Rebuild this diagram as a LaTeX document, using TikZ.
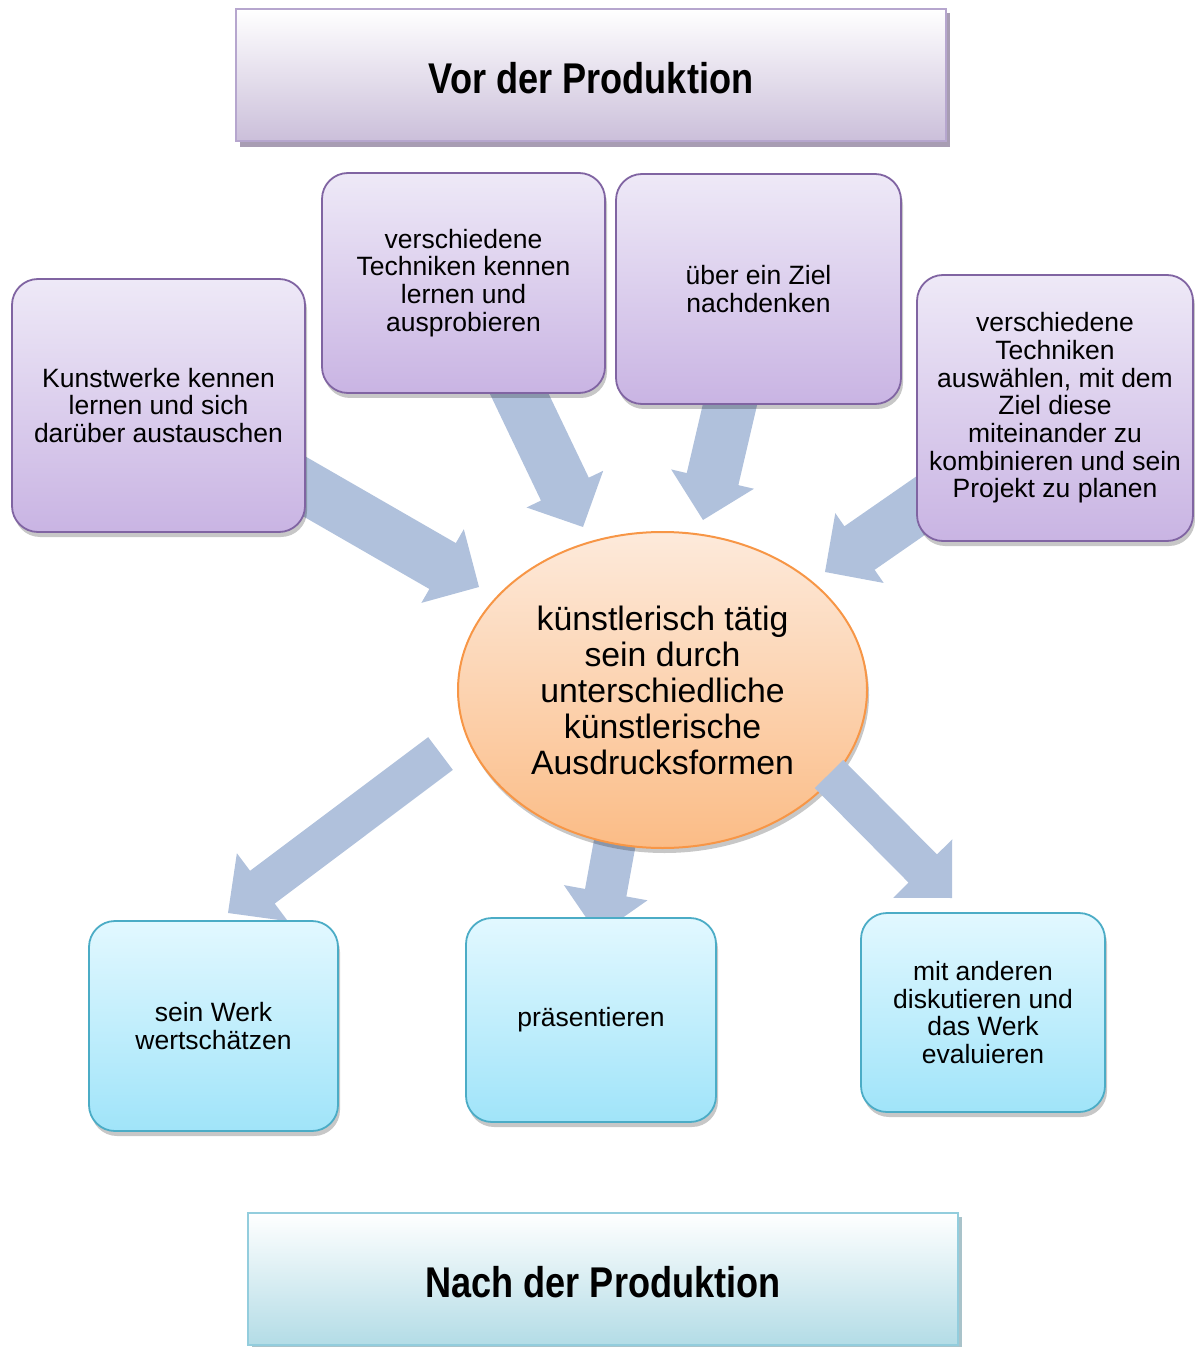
\documentclass[tikz,border=0pt]{standalone}
\usepackage{fontspec}
\setmainfont{Liberation Sans}
\usepackage{graphicx}
\usetikzlibrary{calc,shadows,shapes.geometric}
\definecolor{arrowblue}{HTML}{B0C1DC}
\definecolor{pborder}{HTML}{8064A2}
\definecolor{ptop}{HTML}{EEE9F7}
\definecolor{pbot}{HTML}{C9B4E3}
\definecolor{cborder}{HTML}{4BACC6}
\definecolor{ctop}{HTML}{E2F8FF}
\definecolor{cbot}{HTML}{A0E4F9}
\definecolor{oborder}{HTML}{F79646}
\definecolor{otop}{HTML}{FDEADB}
\definecolor{obot}{HTML}{FBBC86}
\definecolor{tborder}{HTML}{B6A6CE}
\definecolor{tbot}{HTML}{CBBFDA}
\definecolor{tshadow}{HTML}{A89DB3}
\definecolor{nborder}{HTML}{93CDDD}
\definecolor{nbot}{HTML}{B3DCE6}
\definecolor{nshadow}{HTML}{A9C3CA}
\newcommand\blockarrow[5]{%
  \coordinate (#1-h) at ($(#2)!#5!(#1)$);
  \fill[arrowblue] ($(#1)!#3!90:(#2)$) -- ($(#1-h)!#3!90:(#2)$) -- ($(#1-h)!#4!90:(#2)$) -- (#2)
    -- ($(#1-h)!#4!-90:(#2)$) -- ($(#1-h)!#3!-90:(#2)$) -- ($(#1)!#3!-90:(#2)$) -- cycle;}
\tikzset{
  softshadow/.style={drop shadow={shadow xshift=1pt, shadow yshift=-2.5pt, opacity=0.22, fill=black}},
  purplebox/.style={rounded corners=13pt, draw=pborder, line width=0.9pt, top color=ptop, bottom color=pbot,
    align=center, inner sep=0pt, font=\fontsize{13.25}{13.85}\selectfont, softshadow},
  cyanbox/.style={rounded corners=13pt, draw=cborder, line width=0.9pt, top color=ctop, bottom color=cbot,
    align=center, inner sep=0pt, font=\fontsize{13.25}{13.85}\selectfont, softshadow},
  titlebox/.style={draw=tborder, line width=1pt, top color=white, bottom color=tbot, inner sep=0pt,
    minimum width=355pt, minimum height=66pt},
  ntitlebox/.style={draw=nborder, line width=1pt, top color=white, bottom color=nbot, inner sep=0pt,
    minimum width=355pt, minimum height=66pt},
  centerell/.style={ellipse, draw=oborder, line width=1pt, top color=otop, bottom color=obot, inner sep=0pt,
    minimum width=204.5pt, minimum height=158pt, align=center, font=\fontsize{16.9}{18}\selectfont, softshadow},
  titletext/.style={inner sep=0pt},
}
\begin{document}
\begin{tikzpicture}[x=0.5pt, y=-0.5pt]
\useasboundingbox (0,0) rectangle (1194,1347);
% top arrows
\coordinate (a1s) at (288,477); \coordinate (a1t) at (479,587);
\coordinate (a2s) at (505,364); \coordinate (a2t) at (583,527);
\coordinate (a3s) at (735,383); \coordinate (a3t) at (703,520);
\coordinate (a4s) at (972,470); \coordinate (a4t) at (825,572);
\blockarrow{a1s}{a1t}{13.25pt}{21.25pt}{21pt}
\blockarrow{a2s}{a2t}{13.25pt}{21.25pt}{21pt}
\blockarrow{a3s}{a3t}{13.25pt}{21.25pt}{21pt}
\blockarrow{a4s}{a4t}{13.25pt}{21.25pt}{21pt}
% title boxes
\fill[tshadow] (240,13) rectangle (950,147);
\node[titlebox] (vor) at (591,75) {};
\node[titletext] (vortext) at (591,78) {\scalebox{0.84}[1]{\fontsize{21.5}{26}\selectfont\bfseries Vor der Produktion}};
% purple boxes
\node[purplebox, minimum width=146.5pt, minimum height=126.5pt] (kunst) at (158.5,405.5)
  {Kunstwerke kennen\\lernen und sich\\darüber austauschen};
\node[purplebox, minimum width=141.5pt, minimum height=110pt] (tech) at (463.5,283)
  {verschiedene\\Techniken kennen\\lernen und\\ausprobieren};
\node[purplebox, minimum width=142.5pt, minimum height=115pt] (ziel) at (758.5,289)
  {über ein Ziel\\nachdenken};
\node[purplebox, minimum width=138pt, minimum height=133pt] (plan) at (1055,408)
  {verschiedene\\Techniken\\auswählen, mit dem\\Ziel diese\\miteinander zu\\kombinieren und sein\\Projekt zu planen};
% bottom-middle arrow under ellipse
\coordinate (b2s) at (618,825); \coordinate (b2t) at (598,935);
\blockarrow{b2s}{b2t}{10.5pt}{21.25pt}{21.5pt}
% center ellipse
\node[centerell] (center) at (662.5,690)
  {künstlerisch tätig\\sein durch\\unterschiedliche\\künstlerische\\Ausdrucksformen};
% bottom arrows
\coordinate (b1s) at (440.5,753.5); \coordinate (b1t) at (228,913);
\coordinate (b3s) at (829,774); \coordinate (b3t) at (952,898);
\blockarrow{b1s}{b1t}{10.25pt}{21.25pt}{21.5pt}
\blockarrow{b3s}{b3t}{10pt}{20.75pt}{20.75pt}
% cyan boxes
\node[cyanbox, minimum width=124.5pt, minimum height=105pt] (wert) at (213.5,1026)
  {sein Werk\\wertschätzen};
\node[cyanbox, minimum width=125pt, minimum height=102pt] (praes) at (591,1020)
  {\raisebox{-1.5pt}{präsentieren}};
\node[cyanbox, minimum width=122pt, minimum height=99.5pt] (disk) at (983,1012.5)
  {mit anderen\\diskutieren und\\das Werk\\evaluieren};
% bottom title
\fill[nshadow] (252,1217) rectangle (962,1347);
\node[ntitlebox] (nach) at (603,1279) {};
\node[titletext] (nachtext) at (603,1282) {\scalebox{0.84}[1]{\fontsize{21.5}{26}\selectfont\bfseries Nach der Produktion}};
\end{tikzpicture}
\end{document}
